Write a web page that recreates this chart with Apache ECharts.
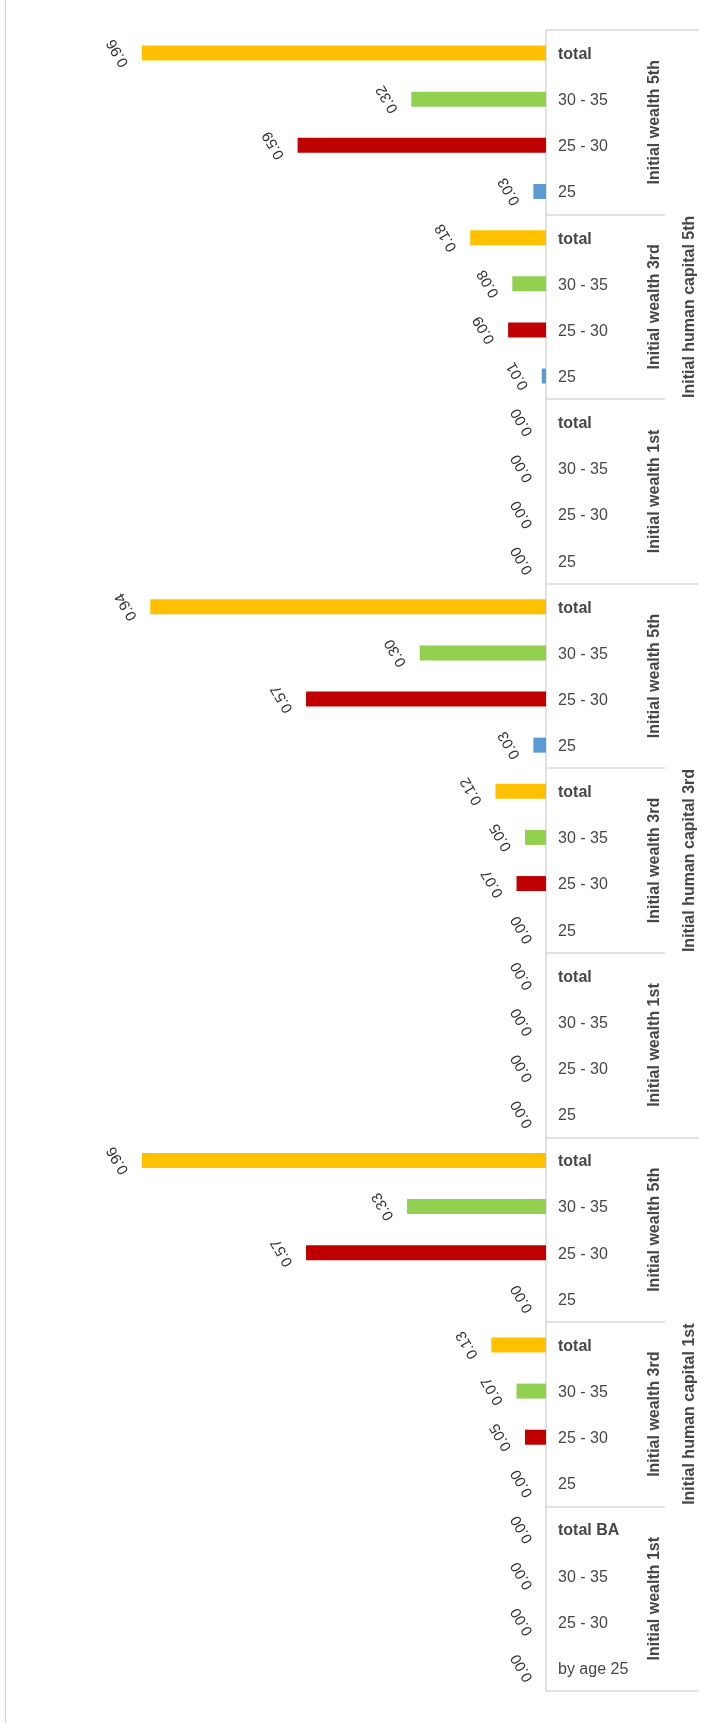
<!DOCTYPE html>
<html>
<head>
<meta charset="utf-8">
<script src="https://cdn.jsdelivr.net/npm/echarts@6/dist/echarts.min.js"></script>
<style>
html,body{margin:0;padding:0;background:#fff;}
#chart{width:714px;height:1723px;}
</style>
</head>
<body>
<div id="chart"></div>
<script>
// Categories listed bottom -> top
const ageLabels = ['25', '25 - 30', '30 - 35', 'total'];
const firstGroupAgeLabels = ['by age 25', '25 - 30', '30 - 35', 'total BA'];
const wealthGroups = ['Initial wealth 1st', 'Initial wealth 3rd', 'Initial wealth 5th',
                      'Initial wealth 1st', 'Initial wealth 3rd', 'Initial wealth 5th',
                      'Initial wealth 1st', 'Initial wealth 3rd', 'Initial wealth 5th'];
const humanCapitalGroups = ['Initial human capital 1st', 'Initial human capital 3rd', 'Initial human capital 5th'];

// Values per wealth group (bottom -> top)
const byAge25 = [0.00, 0.00, 0.00, 0.00, 0.00, 0.03, 0.00, 0.01, 0.03];
const age25to30 = [0.00, 0.05, 0.57, 0.00, 0.07, 0.57, 0.00, 0.09, 0.59];
const age30to35 = [0.00, 0.07, 0.33, 0.00, 0.05, 0.30, 0.00, 0.08, 0.32];
const totalBA = [0.00, 0.13, 0.96, 0.00, 0.12, 0.94, 0.00, 0.18, 0.96];

const seriesValues = [byAge25, age25to30, age30to35, totalBA];
const seriesColors = ['#5B9BD5', '#C00000', '#92D050', '#FFC000'];

const categories = [];
wealthGroups.forEach((g, gi) => {
  (gi === 0 ? firstGroupAgeLabels : ageLabels).forEach(l => categories.push(l));
});

const series = seriesValues.map((vals, si) => {
  const data = [];
  vals.forEach((v, gi) => {
    for (let k = 0; k < 4; k++) data.push(k === si ? v : '-');
  });
  return {
    type: 'bar',
    stack: 'all',
    yAxisIndex: 0,
    barWidth: 15,
    data: data,
    itemStyle: { color: seriesColors[si] },
    label: {
      show: true,
      position: 'left',
      distance: 24,
      align: 'center',
      verticalAlign: 'middle',
      rotate: 120,
      fontFamily: 'Liberation Sans',
      fontSize: 15,
      color: '#333333',
      formatter: p => Number(p.value).toFixed(2)
    }
  };
});

const chart = echarts.init(document.getElementById('chart'), null, { renderer: 'canvas' });
const gridLine = '#D9D9D9';
const txt = '#474747';
chart.setOption({
  animation: false,
  backgroundColor: '#ffffff',
  grid: { left: 125, right: 168, top: 30, bottom: 32 },
  xAxis: {
    type: 'value', min: 0, max: 1, inverse: true, show: false,
    splitLine: { show: false }
  },
  yAxis: [
    {
      type: 'category', position: 'right', data: categories,
      axisLine: { show: true, lineStyle: { color: gridLine, width: 1.5 } },
      axisTick: { show: false },
      axisLabel: {
        interval: 0, margin: 12, fontFamily: 'Liberation Sans', fontSize: 16, color: txt,
        padding: [3, 0, 0, 0],
        formatter: v => v.indexOf('total') === 0 ? '{b|' + v + '}' : v,
        rich: { b: { fontWeight: 'bold', fontFamily: 'Liberation Sans', fontSize: 16, color: txt } }
      }
    },
    {
      type: 'category', position: 'right', data: wealthGroups,
      axisLine: { show: false },
      axisTick: { show: true, length: 119, interval: 0, lineStyle: { color: gridLine, width: 1.5 } },
      axisLabel: {
        interval: 0, rotate: 90, margin: 101, fontFamily: 'Liberation Sans', fontSize: 16,
        fontWeight: 'bold', color: txt
      }
    },
    {
      type: 'category', position: 'right', data: humanCapitalGroups,
      axisLine: { show: false },
      axisTick: { show: true, length: 153, interval: 0, lineStyle: { color: gridLine, width: 1.5 } },
      axisLabel: {
        interval: 0, rotate: 90, margin: 136, fontFamily: 'Liberation Sans', fontSize: 16,
        fontWeight: 'bold', color: txt
      }
    }
  ],
  graphic: [{
    type: 'line', silent: true,
    shape: { x1: 5.5, y1: 0, x2: 5.5, y2: 1723 },
    style: { stroke: gridLine, lineWidth: 1.5 }
  }],
  series: series
});
</script>
</body>
</html>
